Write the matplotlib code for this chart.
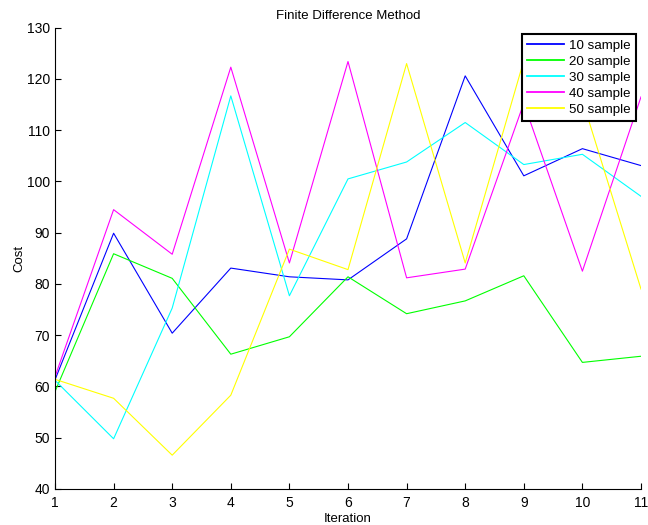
import matplotlib
matplotlib.use("Agg")
import matplotlib.pyplot as plt

plt.rcParams['font.family'] = ['Liberation Sans', 'DejaVu Sans']

iterations = [1, 2, 3, 4, 5, 6, 7, 8, 9, 10, 11]
s10 = [61.3, 89.9, 70.4, 83.1, 81.4, 80.8, 88.8, 120.6, 101.1, 106.4, 103.1]
s20 = [59.0, 85.9, 81.1, 66.3, 69.7, 81.4, 74.2, 76.7, 81.6, 64.7, 65.9]
s30 = [61.2, 49.8, 75.3, 116.7, 77.7, 100.5, 103.8, 111.5, 103.3, 105.3, 97.1]
s40 = [61.9, 94.5, 85.8, 122.3, 84.1, 123.4, 81.2, 82.9, 115.3, 82.5, 116.5]
s50 = [61.4, 57.7, 46.6, 58.3, 86.8, 82.8, 123.0, 84.1, 123.6, 115.9, 79.0]

labels = ['10 sample', '20 sample', '30 sample', '40 sample', '50 sample']
colors = ['#0000ff', '#00ff00', '#00ffff', '#ff00ff', '#ffff00']
series = [s10, s20, s30, s40, s50]

fig = plt.figure(figsize=(6.48, 5.25), dpi=100)
ax = fig.add_axes([55/648, 36/525, 586/648, 461.3/525])

for ys, c, lab in zip(series, colors, labels):
    ax.plot(iterations, ys, color=c, lw=0.8, label=lab)

ax.set_xlim(1, 11)
ax.set_ylim(40, 130)
ax.set_xticks(iterations)
ax.set_yticks(range(40, 131, 10))
for s in ['top', 'right']:
    ax.spines[s].set_visible(False)
for s in ['left', 'bottom']:
    ax.spines[s].set_linewidth(0.8)
ax.tick_params(direction='in', length=4, width=0.8, labelsize=10, colors='black')
ax.tick_params(axis='x', pad=5)
ax.set_title('Finite Difference Method', fontsize=9.5, pad=6)
ax.set_xlabel('Iteration', fontsize=9.5, labelpad=2)
ax.set_ylabel('Cost', fontsize=9.5, labelpad=1)

leg = ax.legend(loc='upper right', bbox_to_anchor=(0.9915, 0.986), fontsize=9.6,
                frameon=True, fancybox=False, framealpha=1, edgecolor='black',
                handlelength=2.75, handletextpad=0.4, borderpad=0.4, labelspacing=0.28,
                borderaxespad=0)
leg.get_frame().set_linewidth(1.5)
for h in leg.get_lines():
    h.set_linewidth(1.3)

fig.savefig('out.png', dpi=100)
